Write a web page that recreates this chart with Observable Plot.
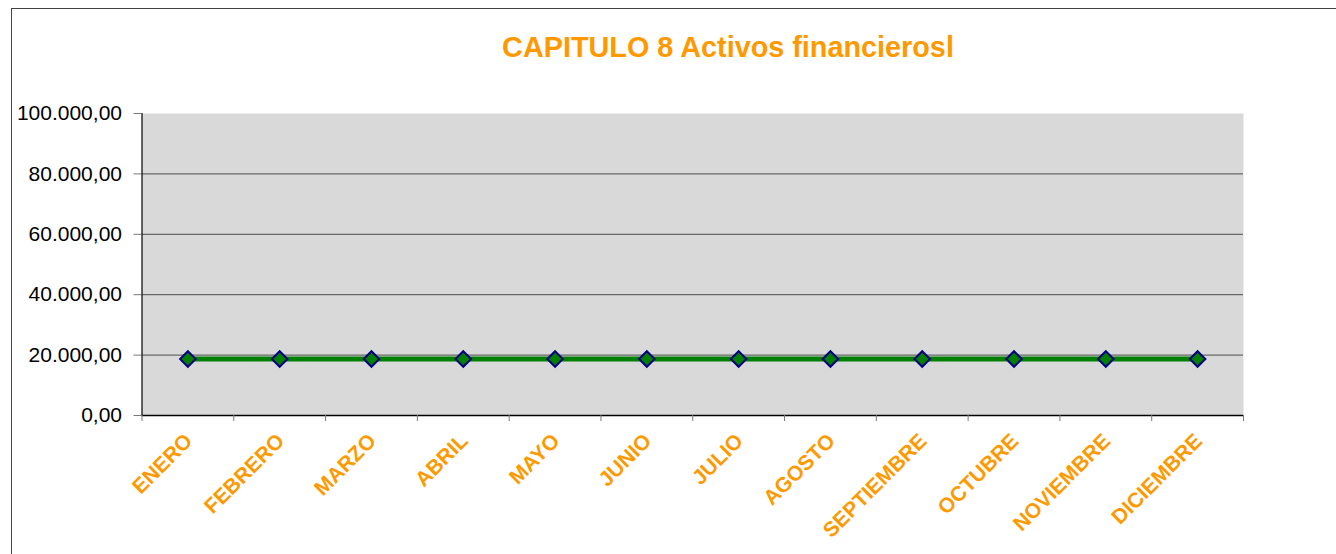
<!DOCTYPE html>
<html>
<head>
<meta charset="utf-8">
<script src="https://cdn.jsdelivr.net/npm/d3@7"></script>
<script src="https://cdn.jsdelivr.net/npm/@observablehq/plot@0.6"></script>
<style>
  body { margin: 0; background: #fff; }
  #wrap { position: relative; width: 1336px; height: 554px; overflow: hidden; background: #fff; }
  #chart { position: absolute; left: 0; top: 0; }
  #border { position: absolute; left: 11px; top: 8px; width: 1400px; height: 700px;
            border-left: 1px solid #444; border-top: 1px solid #444; pointer-events: none; }
  #title { position: absolute; left: 728px; top: 33px; transform: translateX(-50%);
           white-space: nowrap; font-family: "Liberation Sans", Arial, sans-serif;
           font-weight: bold; font-size: 28.8px; line-height: 1; color: #FF9900; }
</style>
</head>
<body>
<div id="wrap">
  <div id="chart"></div>
  <div id="title">CAPITULO 8 Activos financierosl</div>
  <div id="border"></div>
</div>
<script>
const months = ["ENERO", "FEBRERO", "MARZO", "ABRIL", "MAYO", "JUNIO", "JULIO", "AGOSTO", "SEPTIEMBRE", "OCTUBRE", "NOVIEMBRE", "DICIEMBRE"];
const values = [18700, 18700, 18700, 18700, 18700, 18700, 18700, 18700, 18700, 18700, 18700, 18700];
const yTicks = [0, 20000, 40000, 60000, 80000, 100000];
const gridLines = [20000, 40000, 60000, 80000];

const data = months.map((m, i) => ({month: m, value: values[i]}));

const W = 1336, H = 554;
const mL = 141.5, mR = 93, mT = 113, mB = 139;
const bw = (W - mL - mR) / months.length;

const fmt = d3.formatLocale({decimal: ",", thousands: ".", grouping: [3]}).format(",.2f");
const font = "'Liberation Sans', Arial, sans-serif";

const chart = Plot.plot({
  width: W,
  height: H,
  marginLeft: mL,
  marginRight: mR,
  marginTop: mT,
  marginBottom: mB,
  style: {fontFamily: font, background: "transparent", overflow: "visible"},
  x: {type: "band", domain: months, padding: 0, round: false},
  y: {domain: [0, 100000]},
  marks: [
    Plot.frame({fill: "#D9D9D9", stroke: null}),
    Plot.ruleY(gridLines, {stroke: "#4d4d4d", strokeWidth: 1}),
    Plot.ruleY([0], {stroke: "#000", strokeWidth: 1.5}),
    Plot.ruleX([months[0]], {dx: -bw / 2, stroke: "#000", strokeWidth: 1.2}),
    Plot.axisY({ticks: yTicks, tickFormat: fmt, tickSize: 8, tickPadding: 12,
                fontSize: 21, label: null, stroke: "#777", fill: "#000"}),
    Plot.axisX({ticks: months, tickFormat: () => "", tickSize: 6, label: null,
                dx: -bw / 2, stroke: "#777"}),
    Plot.axisX({ticks: [months[months.length - 1]], tickFormat: () => "", tickSize: 6,
                label: null, dx: bw / 2, stroke: "#777"}),
    Plot.text(months, {x: d => d, frameAnchor: "bottom", dx: 1, dy: 22, rotate: -45,
                       textAnchor: "end", lineAnchor: "middle", fontSize: 21,
                       fontWeight: "bold", fill: "#FF9900"}),
    Plot.line(data, {x: "month", y: "value", stroke: "#008000", strokeWidth: 5}),
    Plot.dot(data, {x: "month", y: "value", symbol: "diamond2", r: 7,
                    fill: "#008000", stroke: "#000080", strokeWidth: 2})
  ]
});
document.getElementById("chart").appendChild(chart);
</script>
</body>
</html>
